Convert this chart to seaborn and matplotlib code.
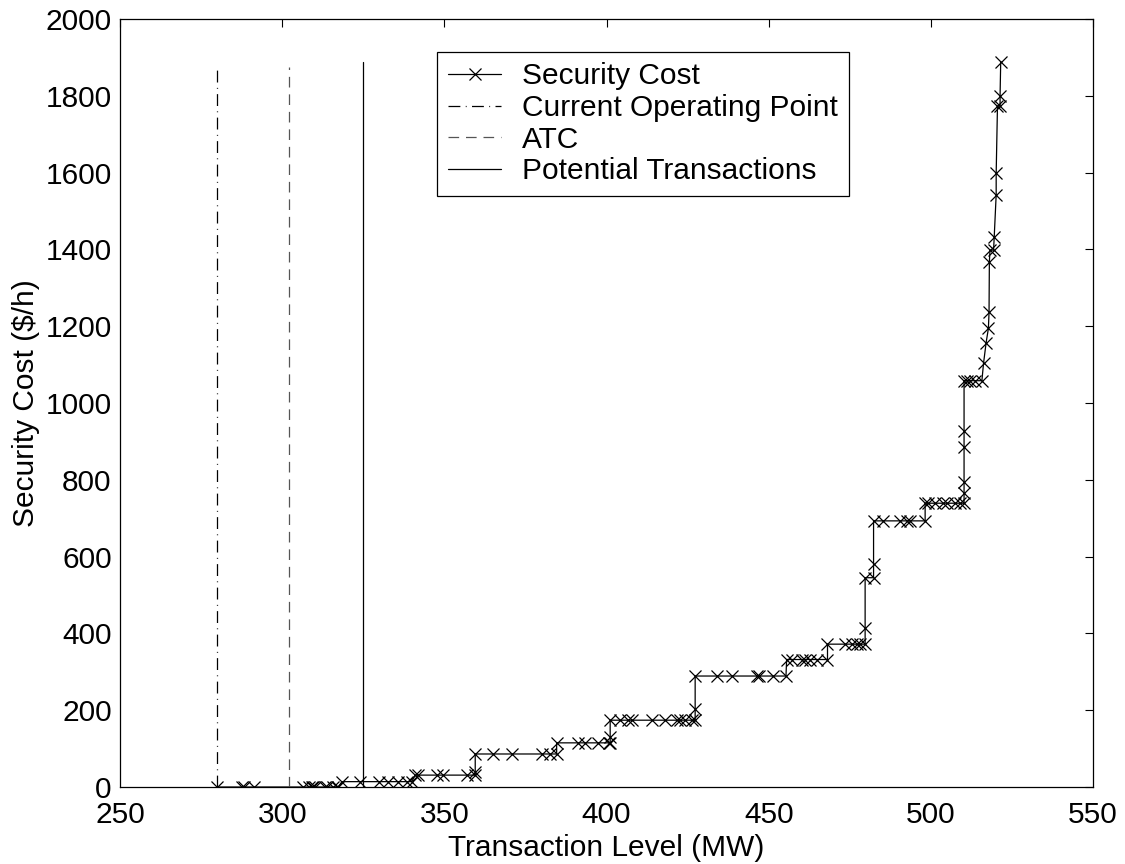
import numpy as np
import pandas as pd
import matplotlib
matplotlib.use("Agg")
import matplotlib.pyplot as plt
import seaborn as sns

sns.set_style("white")
plt.rcParams['font.family'] = ['Liberation Sans', 'DejaVu Sans']
plt.rcParams['text.color'] = 'black'
plt.rcParams['axes.labelcolor'] = 'black'
plt.rcParams['xtick.color'] = 'black'
plt.rcParams['ytick.color'] = 'black'

# security cost curve (MW, $/h)
level_mw = [280.0, 287.5, 288.2, 291.3, 306.5, 308.3, 309.1, 309.6, 310.1, 313.2,
            313.8, 315.7, 316.8, 317.3, 318.4, 324.0, 329.9, 332.6, 335.7, 338.4,
            339.9, 341.0, 341.9, 347.6, 349.6, 356.9, 359.5, 359.5, 359.5, 365.1,
            370.8, 380.0, 382.6, 384.6, 384.6, 391.3, 393.4, 397.5, 400.6, 401.1,
            401.1, 401.1, 404.2, 406.7, 407.8, 413.9, 418.0, 421.6, 422.7, 424.2,
            426.3, 427.3, 427.3, 427.3, 434.0, 438.8, 446.3, 447.1, 451.4, 455.3,
            455.5, 457.1, 460.2, 461.2, 462.7, 464.8, 468.1, 468.1, 473.5, 475.6,
            477.1, 478.2, 479.7, 479.7, 479.7, 482.3, 482.3, 482.3, 485.3, 490.5,
            492.6, 493.6, 498.2, 498.2, 499.1, 501.3, 503.8, 504.9, 507.5, 509.0,
            510.2, 510.2, 510.2, 510.2, 510.2, 510.2, 511.1, 512.1, 513.6, 515.7,
            516.2, 517.0, 517.7, 517.9, 518.0, 518.2, 519.3, 519.5, 520.1, 520.1,
            520.5, 521.3, 521.3, 521.5]
cost = [0, 0, 0, 0, 0, 0, 0, 0, 0, 0,
        0, 0, 0, 0, 14, 14, 14, 14, 14, 14,
        14, 31, 31, 31, 31, 31, 31, 40, 86, 86,
        86, 86, 86, 86, 115, 115, 115, 115, 115, 115,
        131, 174, 174, 174, 174, 174, 174, 174, 174, 174,
        174, 174, 202, 289, 289, 289, 289, 289, 289, 289,
        332, 332, 332, 332, 332, 332, 332, 372, 372, 372,
        372, 372, 372, 413, 545, 545, 582, 693, 693, 693,
        693, 693, 693, 739, 739, 739, 739, 739, 739, 739,
        739, 765, 795, 885, 928, 1058, 1058, 1058, 1058, 1058,
        1103, 1157, 1194, 1236, 1368, 1398, 1398, 1433, 1542, 1598,
        1773, 1773, 1800, 1889]

op_point = 280.0
op_top = 1875
atc = 302.2
atc_top = 1875
potential = 325.0
potential_top = 1889

df = pd.DataFrame({'mw': level_mw, 'cost': cost})

fig = plt.figure(figsize=(11.25, 8.64), dpi=100)
ax = fig.add_axes([0.1067, 0.0891, 0.865, 0.889])

sns.lineplot(data=df, x='mw', y='cost', ax=ax, sort=False, estimator=None,
             color='black', lw=0.9, marker='x', markersize=8, mew=0.9,
             mec='black', label='Security Cost')
ax.plot([op_point, op_point], [0, op_top], color='black', lw=0.9,
        dashes=(9.5, 4.3, 0.7, 4.3), label='Current Operating Point')
ax.plot([atc, atc], [0, atc_top], color='#555555', lw=0.9,
        dashes=(8.5, 5.5), label='ATC')
ax.plot([potential, potential], [0, potential_top], color='black', lw=0.9,
        label='Potential Transactions')

ax.set_xlim(250, 550)
ax.set_ylim(0, 2000)
ax.set_xticks(np.arange(250, 551, 50))
ax.set_yticks(np.arange(0, 2001, 200))
ax.tick_params(direction='in', length=6, width=0.8, top=True, right=True,
               labelsize=21.5, color='black', labelcolor='black')
ax.tick_params(axis='x', pad=10)
ax.tick_params(axis='y', pad=6)
for s in ax.spines.values():
    s.set_visible(True)
    s.set_color('black')
    s.set_linewidth(0.9)

ax.set_xlabel('Transaction Level (MW)', fontsize=21.5, labelpad=4)
ax.set_ylabel(r'Security Cost (\$/h)', fontsize=21.5, labelpad=4)

leg = ax.legend(loc='upper left', bbox_to_anchor=(0.326, 0.957), fontsize=21.5,
                frameon=True, fancybox=False, framealpha=1, edgecolor='black',
                handlelength=1.8, handletextpad=0.7, labelspacing=0.12,
                borderpad=0.35, borderaxespad=0)
leg.get_frame().set_linewidth(0.9)
for t in leg.get_texts():
    t.set_color('black')

fig.savefig('out.png', dpi=100)
